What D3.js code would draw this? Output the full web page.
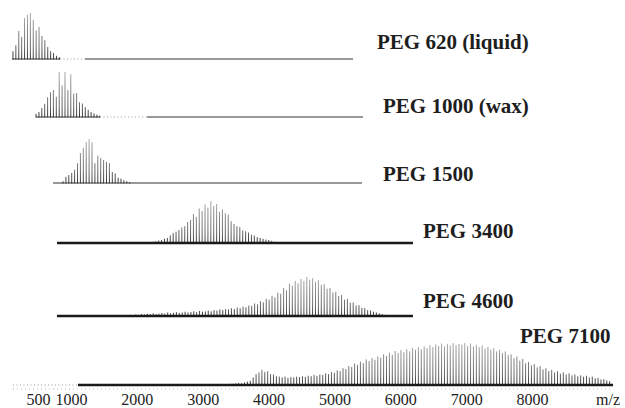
<!DOCTYPE html>
<html>
<head>
<meta charset="utf-8">
<script src="https://cdn.jsdelivr.net/npm/d3@7"></script>
<style>
body { margin: 0; background: #fff; }
svg { display: block; }
.title { font-family: "Liberation Serif", "Times New Roman", serif; font-weight: bold; font-size: 21px; fill: #1e1e1e; }
.tick text, .unit { font-family: "Liberation Serif", "Times New Roman", serif; font-size: 16px; fill: #222; }
</style>
</head>
<body>
<svg id="chart" width="625" height="408"></svg>
<script>
// samples, top to bottom
var names = ["PEG 620 (liquid)", "PEG 1000 (wax)", "PEG 1500", "PEG 3400", "PEG 4600", "PEG 7100"];

// m/z of the first drawn peak of each spectrum, peaks repeat every 44 (C2H4O)
var peakStart = [120, 470, 880, 2200, 1897, 3415];
var peakStep = 44;

// relative peak heights (% of the spectrum's tallest peak)
var peg620 = [17, 30, 61, 48, 89, 96, 100, 85, 62, 70, 50, 41, 26, 17, 13, 7, 4];
var peg1000 = [7, 11, 20, 29, 44, 55, 60, 45, 100, 70, 100, 60, 95, 52, 53, 33, 30, 22, 16, 11, 8, 5, 3];
var peg1500 = [4, 14, 18, 23, 30, 45, 68, 80, 93, 100, 93, 45, 62, 57, 52, 48, 45, 25, 22, 12, 10, 6, 4, 2];
var peg3400 = [2, 3, 4, 6, 7, 10, 12, 18, 24, 27, 31, 37, 40, 50, 55, 69, 62, 82, 76, 92, 84, 100, 88, 93, 74,
    80, 71, 68, 52, 45, 40, 38, 30, 28, 25, 20, 18, 14, 12, 10, 8, 7, 5, 3, 2];
var peg4600 = [3, 2, 4, 3, 5, 4, 6, 5, 7, 5, 6, 8, 6, 9, 7, 8, 10, 8, 9, 11, 9, 10, 12, 10, 13, 11, 12, 14, 12, 15,
    14, 17, 15, 18, 17, 20, 18, 22, 20, 24, 22, 27, 26, 32, 30, 38, 35, 44, 42, 52, 48, 60, 57, 72, 66, 83, 78, 90,
    84, 95, 90, 100, 93, 97, 88, 92, 80, 82, 70, 72, 60, 62, 51, 54, 42, 44, 34, 35, 27, 28, 21, 20, 15, 14, 11, 9,
    7, 5, 3];
var peg7100 = [3, 3, 4, 5, 4, 6, 8, 10, 18, 26, 30, 36, 31, 33, 26, 25, 21, 20, 18, 20, 17, 19, 18, 20, 19, 21, 19,
    22, 21, 24, 22, 25, 24, 28, 26, 31, 29, 35, 33, 40, 38, 45, 43, 51, 48, 56, 52, 61, 57, 64, 60, 68, 65, 73, 69,
    77, 72, 81, 76, 83, 78, 85, 80, 88, 84, 90, 85, 92, 88, 95, 90, 97, 93, 99, 92, 98, 94, 100, 95, 98, 96, 100, 93,
    99, 92, 96, 90, 94, 87, 91, 84, 88, 80, 84, 76, 80, 71, 73, 64, 68, 58, 62, 52, 55, 47, 50, 42, 45, 37, 40, 33,
    36, 30, 33, 27, 30, 25, 28, 23, 25, 21, 23, 20, 22, 18, 20, 16, 17, 13, 14, 11, 9];
var peaks = [peg620, peg1000, peg1500, peg3400, peg4600, peg7100];

// baseline extents in m/z (solid and faint dotted parts)
var solidBase = [[[105, 834], [1214, 5282]], [[470, 1441], [2155, 5434]], [[728, 5419]],
    [[788, 6193]], [[788, 6193]], [[1107, 9230]]];
var faintBase = [[[834, 1214]], [[1441, 2155]], [], [], [], [[120, 1107]]];

var ticks = [500, 1000, 2000, 3000, 4000, 5000, 6000, 7000, 8000];

// layout
var baseY = [59, 117, 183, 243, 316, 385];
var maxH = [46, 45, 44, 42, 39, 42];
var titlePos = [[377, 49], [383, 113], [383, 181], [423, 238], [423, 308], [520, 343]];

var svg = d3.select("#chart");
var x = d3.scaleLinear().domain([500, 8000]).range([38, 532]);

var defs = svg.append("defs");

peaks.forEach(function(vals, k) {
    var y0 = baseY[k];
    var h = d3.scaleLinear().domain([0, 100]).range([y0, y0 - maxH[k]]);

    var grad = defs.append("linearGradient")
        .attr("id", "g" + k)
        .attr("gradientUnits", "userSpaceOnUse")
        .attr("x1", 0).attr("x2", 0)
        .attr("y1", y0).attr("y2", y0 - maxH[k]);
    grad.append("stop").attr("offset", "0%").attr("stop-color", "#1c1c1c");
    grad.append("stop").attr("offset", "25%").attr("stop-color", "#555");
    grad.append("stop").attr("offset", "100%").attr("stop-color", "#a0a0a0");

    var g = svg.append("g").attr("class", "spectrum");

    g.selectAll("line.peak")
        .data(vals)
        .enter().append("line")
        .attr("class", "peak")
        .attr("x1", function(d, i) { return x(peakStart[k] + i * peakStep); })
        .attr("x2", function(d, i) { return x(peakStart[k] + i * peakStep); })
        .attr("y1", y0 + 0.5)
        .attr("y2", function(d) { return h(d); })
        .attr("stroke", "url(#g" + k + ")")
        .attr("stroke-width", 0.9);

    g.selectAll("line.base")
        .data(solidBase[k])
        .enter().append("line")
        .attr("class", "base")
        .attr("x1", function(d) { return x(d[0]); })
        .attr("x2", function(d) { return x(d[1]); })
        .attr("y1", y0).attr("y2", y0)
        .attr("stroke", k < 3 ? "#333" : "#1a1a1a")
        .attr("stroke-width", k < 3 ? 1.2 : 2.3);

    g.selectAll("line.faint")
        .data(faintBase[k])
        .enter().append("line")
        .attr("class", "faint")
        .attr("x1", function(d) { return x(d[0]); })
        .attr("x2", function(d) { return x(d[1]); })
        .attr("y1", y0).attr("y2", y0)
        .attr("stroke", "#999")
        .attr("stroke-width", 1)
        .attr("stroke-dasharray", "1,2.5");

    svg.append("text")
        .attr("class", "title")
        .attr("x", titlePos[k][0])
        .attr("y", titlePos[k][1])
        .text(names[k]);
});

// faint dotted trace under the bottom spectrum
svg.append("line")
    .attr("x1", x(120)).attr("x2", x(9230))
    .attr("y1", 389).attr("y2", 389)
    .attr("stroke", "#aaa")
    .attr("stroke-width", 0.8)
    .attr("stroke-dasharray", "1,3");

var axis = d3.axisBottom(x)
    .tickValues(ticks)
    .tickSize(0)
    .tickPadding(6)
    .tickFormat(d3.format("d"));

svg.append("g")
    .attr("transform", "translate(0,388)")
    .call(axis)
    .call(function(g) { g.select(".domain").remove(); });

svg.append("text")
    .attr("class", "unit")
    .attr("x", 608)
    .attr("y", 405)
    .attr("text-anchor", "middle")
    .text("m/z");
</script>
</body>
</html>
